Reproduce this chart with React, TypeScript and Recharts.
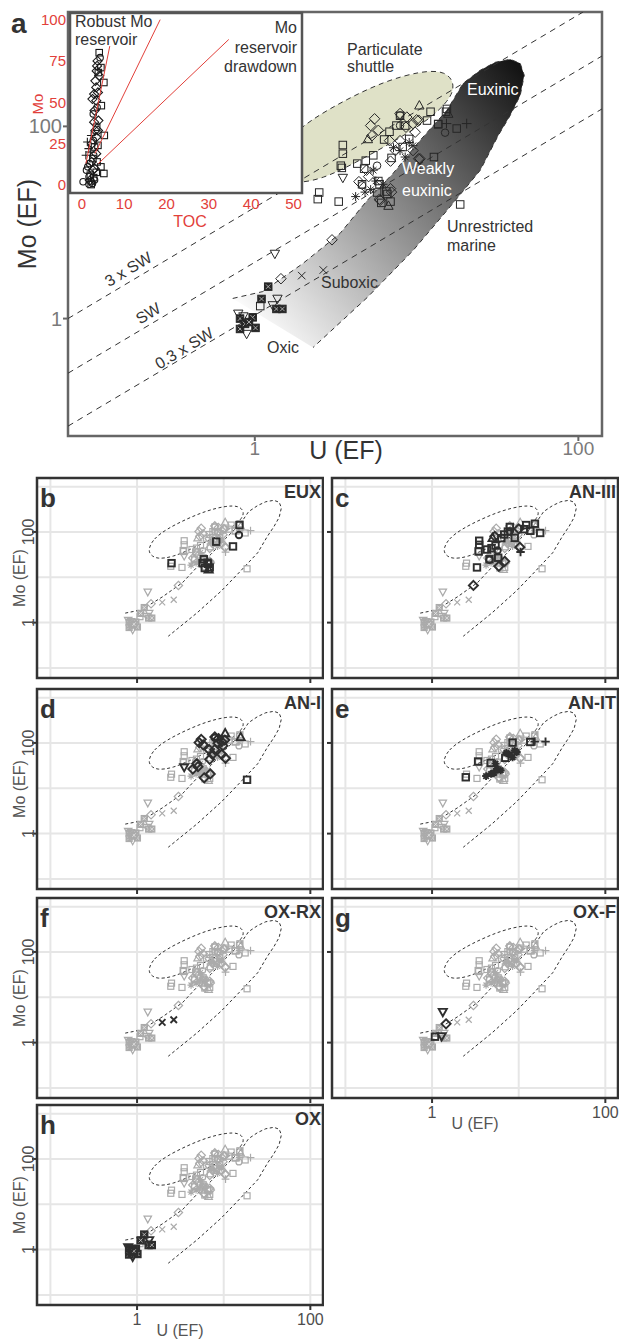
import React from 'react';
import { ScatterChart, Scatter, XAxis, YAxis, CartesianGrid, ReferenceArea, Curve } from 'recharts';

const FONT = '"Liberation Sans", Arial, Helvetica, sans-serif';
const RED = '#e2403a';

// U (EF) / Mo (EF) per facies group
const eux = [
  { u: 2.5, mo: 20.5, s: 'sq' }, { u: 5.7, mo: 20.5, s: 'sq' }, { u: 6.6, mo: 19.8, s: 'sq' },
  { u: 6.05, mo: 16, s: 'sq' }, { u: 6.9, mo: 16.5, s: 'sq' }, { u: 5.9, mo: 25, s: 'sq' },
  { u: 6.5, mo: 21, s: 'sq' }, { u: 8.2, mo: 61, s: 'sq' }, { u: 12.8, mo: 48, s: 'sq' },
  { u: 15.2, mo: 142, s: 'sq' }, { u: 15, mo: 86, s: 'ci' }, { u: 6.7, mo: 15, s: 'tr' },
];
const an3 = [
  { u: 3.5, mo: 64, s: 'sq' }, { u: 3.5, mo: 52, s: 'sq' }, { u: 3.45, mo: 37, s: 'sq' },
  { u: 5, mo: 74, s: 'tr' }, { u: 4.3, mo: 41, s: 'sq' }, { u: 4.85, mo: 44, s: 'sq' },
  { u: 5.4, mo: 50, s: 'sq' }, { u: 6.3, mo: 73, s: 'sq' }, { u: 6.8, mo: 88, s: 'sq' },
  { u: 7.5, mo: 102, s: 'sq' }, { u: 7.9, mo: 129, s: 'sq' }, { u: 5.3, mo: 80, s: 'dm' },
  { u: 9, mo: 74, s: 'sq' }, { u: 10, mo: 117, s: 'dm' }, { u: 11.6, mo: 115, s: 'sq' },
  { u: 12.2, mo: 142, s: 'sq' }, { u: 13.6, mo: 106, s: 'sq' }, { u: 15.4, mo: 152, s: 'sq' },
  { u: 17.7, mo: 95, s: 'sq' }, { u: 10.3, mo: 46, s: 'dm' }, { u: 10.5, mo: 36, s: 'pl' },
  { u: 4.6, mo: 25, s: 'sq' }, { u: 5.8, mo: 27, s: 'sq' }, { u: 6.9, mo: 22.5, s: 'dm' },
  { u: 5.9, mo: 17.5, s: 'dm' }, { u: 3.3, mo: 16.5, s: 'sq' }, { u: 3.0, mo: 6.6, s: 'dm' },
  { u: 7.9, mo: 102, s: 'ci' }, { u: 5.7, mo: 39, s: 'ci' }, { u: 4.6, mo: 24.4, s: 'ci' },
];
const an1 = [
  { u: 5.5, mo: 120, s: 'dm' }, { u: 5.2, mo: 102, s: 'dm' }, { u: 5.8, mo: 91, s: 'dm' },
  { u: 8.7, mo: 125, s: 'dm' }, { u: 9.5, mo: 107, s: 'dm' }, { u: 10.3, mo: 116, s: 'dm' },
  { u: 9.8, mo: 87, s: 'dm' }, { u: 6.8, mo: 71, s: 'dm' }, { u: 7.9, mo: 71, s: 'dm' },
  { u: 7.4, mo: 56, s: 'dm' }, { u: 10.5, mo: 46, s: 'dm' }, { u: 9.5, mo: 56, s: 'dm' },
  { u: 7, mo: 20.7, s: 'dm' }, { u: 5.95, mo: 17, s: 'dm' }, { u: 4.9, mo: 35, s: 'dm' },
  { u: 6.9, mo: 43.5, s: 'dm' }, { u: 4.4, mo: 26.6, s: 'dm' }, { u: 5.05, mo: 30, s: 'dm' },
  { u: 7.9, mo: 136, s: 'dm' }, { u: 8.6, mo: 98, s: 'dm' }, { u: 10.4, mo: 166, s: 'tr' },
  { u: 15.7, mo: 136, s: 'tr' }, { u: 18.6, mo: 15.4, s: 'sq' }, { u: 7.9, mo: 130, s: 'ci' },
  { u: 3.5, mo: 29, s: 'tv' },
];
const anIT = [
  { u: 8.5, mo: 102, s: 'sq' }, { u: 13.6, mo: 105, s: 'sq' }, { u: 20.4, mo: 107, s: 'pl' },
  { u: 15.3, mo: 107, s: 'pl' }, { u: 3.4, mo: 39, s: 'sq' }, { u: 4.74, mo: 36.3, s: 'sq' },
  { u: 2.45, mo: 17.5, s: 'sq' }, { u: 7, mo: 47, s: 'sq' }, { u: 4.2, mo: 18.6, s: 'as' },
  { u: 4.8, mo: 20.7, s: 'as' }, { u: 6.2, mo: 25, s: 'as' }, { u: 8.5, mo: 48, s: 'as' },
  { u: 9.5, mo: 63, s: 'as' }, { u: 7.9, mo: 56, s: 'as' }, { u: 5.4, mo: 35, s: 'as' },
  { u: 5.2, mo: 22, s: 'as' }, { u: 5.6, mo: 27, s: 'as' }, { u: 7.2, mo: 60, s: 'as' },
  { u: 9, mo: 68, s: 'as' },
];
const oxRx = [
  { u: 1.95, mo: 2.8, s: 'x' }, { u: 2.65, mo: 3.2, s: 'x' },
];
const oxF = [
  { u: 1.33, mo: 4.7, s: 'tv' }, { u: 1.45, mo: 2.6, s: 'dm' }, { u: 1.08, mo: 1.35, s: 'sq' },
  { u: 1.29, mo: 1.37, s: 'tv' },
];
const ox = [
  { u: 0.81, mo: 1.0, s: 'bx' }, { u: 0.81, mo: 0.78, s: 'bx' }, { u: 0.97, mo: 1.03, s: 'bx' },
  { u: 1.01, mo: 0.8, s: 'bx' }, { u: 0.87, mo: 0.88, s: 'bx' }, { u: 1.21, mo: 2.15, s: 'bx' },
  { u: 1.1, mo: 1.6, s: 'bx' }, { u: 1.36, mo: 1.26, s: 'bx' }, { u: 1.48, mo: 1.26, s: 'bx' },
  { u: 0.92, mo: 0.92, s: 'bx' }, { u: 0.79, mo: 1.12, s: 'tv' }, { u: 0.89, mo: 0.69, s: 'tv' },
  { u: 1.38, mo: 1.6, s: 'tv' }, { u: 0.85, mo: 1.05, s: 'tv' },
];

const allPts = [...eux, ...an3, ...an1, ...anIT, ...oxRx, ...oxF, ...ox];

const groups = [
  { name: 'EUX', letter: 'b', pts: eux },
  { name: 'AN-III', letter: 'c', pts: an3 },
  { name: 'AN-I', letter: 'd', pts: an1 },
  { name: 'AN-IT', letter: 'e', pts: anIT },
  { name: 'OX-RX', letter: 'f', pts: oxRx },
  { name: 'OX-F', letter: 'g', pts: oxF },
  { name: 'OX', letter: 'h', pts: ox },
];

// TOC (wt%) vs Mo (ppm) for the inset
const tocMo = [
  { toc: 4.1, mo: 80, s: 'sq' }, { toc: 4.3, mo: 77, s: 'ci' }, { toc: 3.6, mo: 72, s: 'dm' },
  { toc: 4.5, mo: 71, s: 'sq' }, { toc: 3.5, mo: 69, s: 'dm' }, { toc: 4.1, mo: 66, s: 'dm' },
  { toc: 5.2, mo: 62, s: 'sq' }, { toc: 3.2, mo: 63, s: 'dm' }, { toc: 3.4, mo: 59, s: 'dm' },
  { toc: 3.8, mo: 56, s: 'dm' }, { toc: 2.5, mo: 52, s: 'dm' }, { toc: 3.4, mo: 51, s: 'dm' },
  { toc: 4.6, mo: 48, s: 'sq' }, { toc: 3.0, mo: 45, s: 'dm' }, { toc: 2.7, mo: 43, s: 'ci' },
  { toc: 3.9, mo: 39, s: 'dm' }, { toc: 3.5, mo: 35, s: 'sq' }, { toc: 3.2, mo: 33, s: 'dm' },
  { toc: 5.3, mo: 30, s: 'sq' }, { toc: 3.4, mo: 29, s: 'dm' }, { toc: 1.3, mo: 26, s: 'pl' },
  { toc: 2.4, mo: 25, s: 'dm' }, { toc: 3.0, mo: 23, s: 'sq' }, { toc: 1.6, mo: 22, s: 'pl' },
  { toc: 3.4, mo: 19, s: 'dm' }, { toc: 0.95, mo: 18, s: 'pl' }, { toc: 2.6, mo: 16, s: 'sq' },
  { toc: 1.8, mo: 13, s: 'ci' }, { toc: 4.5, mo: 11, s: 'sq' }, { toc: 5.2, mo: 7, s: 'sq' },
  { toc: 3.0, mo: 10, s: 'dm' }, { toc: 1.1, mo: 9, s: 'ci' }, { toc: 1.7, mo: 5, s: 'ci' },
  { toc: 3.4, mo: 7.7, s: 'sq' }, { toc: 0.3, mo: 2, s: 'ci' }, { toc: 2.2, mo: 2, s: 'ci' },
  { toc: 2.2, mo: 0.3, s: 'sq' }, { toc: 3.0, mo: 3, s: 'ci' }, { toc: 1.7, mo: 0.5, s: 'ci' },
  { toc: 3.7, mo: 75, s: 'dm' }, { toc: 3.9, mo: 68, s: 'sq' }, { toc: 2.9, mo: 55, s: 'dm' },
  { toc: 3.6, mo: 47, s: 'ci' }, { toc: 2.9, mo: 38, s: 'dm' }, { toc: 3.8, mo: 33, s: 'dm' },
  { toc: 2.2, mo: 30, s: 'pl' }, { toc: 2.7, mo: 27, s: 'ci' }, { toc: 3.8, mo: 24, s: 'sq' },
  { toc: 2.0, mo: 20, s: 'pl' }, { toc: 2.8, mo: 18, s: 'ci' }, { toc: 2.3, mo: 14, s: 'dm' },
  { toc: 3.6, mo: 14, s: 'sq' }, { toc: 1.4, mo: 11, s: 'ci' }, { toc: 2.6, mo: 9, s: 'dm' },
  { toc: 2.0, mo: 6, s: 'sq' }, { toc: 2.8, mo: 4.5, s: 'sq' }, { toc: 2.5, mo: 1, s: 'ci' },
  { toc: 1.9, mo: 2.8, s: 'dm' },
];

// Mo/TOC trend lines of the inset
const robustLine = [{ toc: 0.95, mo: 13 }, { toc: 6.6, mo: 84 }];
const midLine = [{ toc: 3.1, mo: 19 }, { toc: 18.5, mo: 100 }];
const drawdownLine = [{ toc: 3.9, mo: 13 }, { toc: 34.7, mo: 88 }];

// Field outlines (U EF, Mo EF)
const shuttleOutline = [
  { u: 1.35, mo: 42 }, { u: 1.54, mo: 70 }, { u: 2.19, mo: 116 }, { u: 3.72, mo: 193 },
  { u: 6.31, mo: 294 }, { u: 10.7, mo: 378 }, { u: 15.2, mo: 378 }, { u: 17.4, mo: 271 },
  { u: 15.9, mo: 185 }, { u: 11.7, mo: 115 }, { u: 7.5, mo: 72 }, { u: 4.43, mo: 44 },
  { u: 2.61, mo: 28 }, { u: 1.68, mo: 25 }, { u: 1.41, mo: 32 },
];
const bandOutline = [
  { u: 0.73, mo: 1.62 }, { u: 1.12, mo: 1.91 }, { u: 1.98, mo: 3.74 }, { u: 3.36, mo: 7.68 },
  { u: 4.94, mo: 16.9 }, { u: 7.15, mo: 32.4 }, { u: 10.5, mo: 71.5 }, { u: 15.4, mo: 147 },
  { u: 19.4, mo: 281 }, { u: 24.7, mo: 383 }, { u: 30.6, mo: 464 }, { u: 37.9, mo: 499 },
  { u: 43.7, mo: 453 }, { u: 46.3, mo: 340 }, { u: 43.7, mo: 210 }, { u: 37.9, mo: 130 },
  { u: 32, mo: 80.6 }, { u: 24.7, mo: 34.8 }, { u: 15.4, mo: 13.3 }, { u: 9.5, mo: 5.1 },
  { u: 4.94, mo: 1.65 }, { u: 2.29, mo: 0.5 },
];

// Mo/U seawater ratio lines
const sw3 = [{ u: 0.07, mo: 1.0 }, { u: 107, mo: 1550 }];
const sw1 = [{ u: 0.07, mo: 0.27 }, { u: 140, mo: 540 }];
const sw03 = [{ u: 0.07, mo: 0.076 }, { u: 140, mo: 152 }];

const U_DOM = [0.07, 140];
const MO_DOM = [0.06, 1550];
const U_TICKS = [0.1, 1, 10, 100];
const MO_TICKS = [0.1, 1, 10, 100, 1000];

function mark(s: string, cx: number, cy: number, c: string, sz: number, sw: number) {
  const r = sz / 2;
  const st = { fill: 'none', stroke: c, strokeWidth: sw };
  switch (s) {
    case 'sq':
      return <rect x={cx - r} y={cy - r} width={sz} height={sz} {...st} />;
    case 'dm': {
      const d = r * 1.4;
      return <path d={`M${cx} ${cy - d}L${cx + d} ${cy}L${cx} ${cy + d}L${cx - d} ${cy}Z`} {...st} />;
    }
    case 'tr': {
      const d = r * 1.25;
      return <path d={`M${cx} ${cy - d}L${cx + d} ${cy + d * 0.8}L${cx - d} ${cy + d * 0.8}Z`} {...st} />;
    }
    case 'tv': {
      const d = r * 1.25;
      return <path d={`M${cx} ${cy + d}L${cx + d} ${cy - d * 0.8}L${cx - d} ${cy - d * 0.8}Z`} {...st} />;
    }
    case 'ci':
      return <circle cx={cx} cy={cy} r={r} {...st} />;
    case 'pl': {
      const d = r * 1.3;
      return <path d={`M${cx - d} ${cy}H${cx + d}M${cx} ${cy - d}V${cy + d}`} {...st} />;
    }
    case 'x': {
      const d = r;
      return <path d={`M${cx - d} ${cy - d}L${cx + d} ${cy + d}M${cx - d} ${cy + d}L${cx + d} ${cy - d}`} {...st} />;
    }
    case 'as': {
      const d = r * 1.2;
      const e = d * 0.7;
      return (
        <path
          d={`M${cx - d} ${cy}H${cx + d}M${cx} ${cy - d}V${cy + d}M${cx - e} ${cy - e}L${cx + e} ${cy + e}M${cx - e} ${cy + e}L${cx + e} ${cy - e}`}
          {...st}
        />
      );
    }
    case 'bx': {
      const k = r * 0.6;
      return (
        <g>
          <rect x={cx - r} y={cy - r} width={sz} height={sz} fill={c} stroke={c} strokeWidth={sw} />
          <path d={`M${cx - k} ${cy - k}L${cx + k} ${cy + k}M${cx - k} ${cy + k}L${cx + k} ${cy - k}`} stroke="#fff" strokeWidth={0.8} opacity={0.75} />
        </g>
      );
    }
    default:
      return <g />;
  }
}

const dot = (c: string, sz: number, sw: number) => (p: any) => mark(p.payload.s, p.cx, p.cy, c, sz, sw);
const noDot = () => <g />;

const dashedClosed = (lp: any) => (
  <Curve points={lp.points} type="basisClosed" fill="none" stroke="#333" strokeWidth={1} strokeDasharray="3 2.5" />
);
const dashedOpen = (lp: any) => (
  <Curve points={lp.points} type="linear" fill="none" stroke="#333" strokeWidth={1} strokeDasharray="3 2.5" />
);
const swDash = (lp: any) => (
  <Curve points={lp.points} type="linear" fill="none" stroke="#333" strokeWidth={1} strokeDasharray="6 5" />
);
const shuttleFill = (lp: any) => (
  <Curve points={lp.points} type="basisClosed" fill="#dfe1c7" stroke="#333" strokeWidth={1} strokeDasharray="5 4" />
);
const bandFill = (lp: any) => {
  const pts = lp.points;
  const a = pts[0];
  const b = pts[11];
  return (
    <g>
      <defs>
        <linearGradient id="bandGrad" gradientUnits="userSpaceOnUse" x1={a.x} y1={a.y} x2={b.x} y2={b.y}>
          <stop offset="0" stopColor="#fcfcfc" />
          <stop offset="0.28" stopColor="#bdbdbd" />
          <stop offset="0.57" stopColor="#7a7a7a" />
          <stop offset="0.88" stopColor="#303030" />
          <stop offset="1" stopColor="#141414" />
        </linearGradient>
      </defs>
      <Curve points={pts} type="linearClosed" fill="url(#bandGrad)" stroke="none" />
      <Curve points={pts} type="linear" fill="none" stroke="#333" strokeWidth={1} strokeDasharray="5 4" />
    </g>
  );
};

const mainXTick = (p: any) => {
  const v = p.payload.value;
  if (v !== 1 && v !== 100) return <g />;
  return (
    <g>
      <line x1={p.x} x2={p.x} y1={p.y} y2={p.y + 5} stroke="#666" strokeWidth={2} />
      <text x={p.x} y={p.y + 19} textAnchor="middle" fontSize={19} fill="#7a7a7a" fontFamily={FONT}>{v}</text>
    </g>
  );
};
const mainYTick = (p: any) => {
  const v = p.payload.value;
  if (v !== 1 && v !== 100) return <g />;
  return (
    <g>
      <line x1={p.x - 5} x2={p.x} y1={p.y} y2={p.y} stroke="#666" strokeWidth={2} />
      <text x={p.x - 6} y={p.y + 7} textAnchor="end" fontSize={20} fill="#7a7a7a" fontFamily={FONT}>{v}</text>
    </g>
  );
};
const smallXTick = (show: boolean) => (p: any) => {
  const v = p.payload.value;
  if (v !== 1 && v !== 100) return <g />;
  return (
    <g>
      <line x1={p.x} x2={p.x} y1={p.y} y2={p.y + 5} stroke="#333" strokeWidth={2} />
      {show && (
        <text x={p.x} y={p.y + 20} textAnchor="middle" fontSize={16} fill="#4d4d4d" fontFamily={FONT}>{v}</text>
      )}
    </g>
  );
};
const smallYTick = (show: boolean) => (p: any) => {
  const v = p.payload.value;
  if (v !== 1 && v !== 100) return <g />;
  const tx = p.x - 3;
  return (
    <g>
      <line x1={p.x - 5} x2={p.x} y1={p.y} y2={p.y} stroke="#333" strokeWidth={2} />
      {show && (
        <text x={tx} y={p.y} transform={`rotate(-90 ${tx} ${p.y})`} textAnchor="middle" fontSize={16} fill="#4d4d4d" fontFamily={FONT}>{v}</text>
      )}
    </g>
  );
};

function MainPanel() {
  return (
    <div style={{ position: 'absolute', left: 0, top: 0 }}>
      <ScatterChart width={619} height={470} margin={{ top: 12, right: 17, left: 0, bottom: 0 }}>
        <XAxis type="number" dataKey="u" scale="log" domain={U_DOM} allowDataOverflow ticks={U_TICKS} interval={0}
          tickSize={0} tickMargin={0} axisLine={false} tickLine={false} height={34} tick={mainXTick} />
        <YAxis type="number" dataKey="mo" scale="log" domain={MO_DOM} allowDataOverflow ticks={MO_TICKS} interval={0}
          tickSize={0} tickMargin={0} axisLine={false} tickLine={false} width={68} tick={mainYTick} />
        <Scatter data={shuttleOutline} isAnimationActive={false} shape={noDot} line={shuttleFill} />
        <Scatter data={bandOutline} isAnimationActive={false} shape={noDot} line={bandFill} />
        <Scatter data={sw3} isAnimationActive={false} shape={noDot} line={swDash} />
        <Scatter data={sw1} isAnimationActive={false} shape={noDot} line={swDash} />
        <Scatter data={sw03} isAnimationActive={false} shape={noDot} line={swDash} />
        <Scatter data={allPts} isAnimationActive={false} shape={dot('#262626', 7.5, 1)} />
        <ReferenceArea x1={U_DOM[0]} x2={U_DOM[1]} y1={MO_DOM[0]} y2={MO_DOM[1]} ifOverflow="visible"
          fill="none" stroke="#666" strokeWidth={2.5} />
      </ScatterChart>
    </div>
  );
}

const redLine = (lp: any) => (
  <Curve points={lp.points} type="linear" fill="none" stroke={RED} strokeWidth={1} />
);

function Inset() {
  return (
    <div style={{ position: 'absolute', left: 0, top: 0 }}>
      <ScatterChart width={310} height={230} margin={{ top: 13, right: 8, left: 0, bottom: 0 }}>
        <CartesianGrid horizontal={false} vertical={false} fill="#fff" />
        <XAxis type="number" dataKey="toc" domain={[-2.8, 52]} allowDataOverflow ticks={[0, 10, 20, 30, 40, 50]} interval={0}
          tickSize={0} tickMargin={5} axisLine={false} tickLine={false} height={37}
          tick={{ fill: RED, fontSize: 15, fontFamily: FONT }} />
        <YAxis type="number" dataKey="mo" domain={[-4.8, 104]} allowDataOverflow ticks={[0, 25, 50, 75, 100]} interval={0}
          tickSize={0} tickMargin={4} axisLine={false} tickLine={false} width={70}
          tick={{ fill: RED, fontSize: 15, fontFamily: FONT }} />
        <Scatter data={tocMo} isAnimationActive={false} shape={dot('#1a1a1a', 6.5, 1.1)} />
        <Scatter data={robustLine} isAnimationActive={false} shape={noDot} line={redLine} />
        <Scatter data={midLine} isAnimationActive={false} shape={noDot} line={redLine} />
        <Scatter data={drawdownLine} isAnimationActive={false} shape={noDot} line={redLine} />
        <ReferenceArea x1={-2.8} x2={52} y1={-4.8} y2={104} ifOverflow="visible" fill="none" stroke="#555" strokeWidth={2.5} />
      </ScatterChart>
    </div>
  );
}

function SmallPanel({ grp, fx, fy, showY, showX }: any) {
  const yw = showY ? 37 : 9;
  const xh = showX ? 34 : 8;
  const others = allPts.filter((p) => !grp.pts.includes(p));
  return (
    <div style={{ position: 'absolute', left: fx - yw, top: fy - 2 }}>
      <ScatterChart width={yw + 287} height={202 + xh} margin={{ top: 2, right: 1, left: 0, bottom: 0 }}>
        <CartesianGrid stroke="#e6e6e6" strokeWidth={2} />
        <XAxis type="number" dataKey="u" scale="log" domain={U_DOM} allowDataOverflow ticks={U_TICKS} interval={0}
          tickSize={0} tickMargin={0} axisLine={false} tickLine={false} height={xh} tick={smallXTick(showX)} />
        <YAxis type="number" dataKey="mo" scale="log" domain={MO_DOM} allowDataOverflow ticks={MO_TICKS} interval={0}
          tickSize={0} tickMargin={0} axisLine={false} tickLine={false} width={yw} tick={smallYTick(showY)} />
        <Scatter data={shuttleOutline} isAnimationActive={false} shape={noDot} line={dashedClosed} />
        <Scatter data={bandOutline} isAnimationActive={false} shape={noDot} line={dashedOpen} />
        <Scatter data={others} isAnimationActive={false} shape={dot('#ababab', 6, 1.2)} />
        <Scatter data={grp.pts} isAnimationActive={false} shape={dot('#2e2e2e', 6.5, 1.9)} />
        <ReferenceArea x1={U_DOM[0]} x2={U_DOM[1]} y1={MO_DOM[0]} y2={MO_DOM[1]} ifOverflow="visible"
          fill="none" stroke="#333" strokeWidth={2.5} />
      </ScatterChart>
    </div>
  );
}

const panelPos = [
  { fx: 37, fy: 478, showY: true, showX: false },
  { fx: 332, fy: 478, showY: false, showX: false },
  { fx: 37, fy: 689, showY: true, showX: false },
  { fx: 332, fy: 689, showY: false, showX: false },
  { fx: 37, fy: 898, showY: true, showX: false },
  { fx: 332, fy: 898, showY: false, showX: true },
  { fx: 37, fy: 1105, showY: true, showX: true },
];

function T({ x, y, children, size = 16, color = '#333', anchor = 'start', bold = false, rot = 0 }: any) {
  return (
    <text x={x} y={y} fontSize={size} fill={color} textAnchor={anchor} fontWeight={bold ? 'bold' : 'normal'}
      fontFamily={FONT} transform={rot ? `rotate(${rot} ${x} ${y})` : undefined}>
      {children}
    </text>
  );
}

function Overlay() {
  return (
    <svg width={619} height={1339} style={{ position: 'absolute', left: 0, top: 0, pointerEvents: 'none' }}>
      <T x={11} y={33} size={28} bold>a</T>
      <T x={36} y={224} size={25} anchor="middle" rot={-90}>Mo (EF)</T>
      <T x={346} y={459} size={25} anchor="middle">U (EF)</T>
      <T x={75} y={27}>Robust Mo</T>
      <T x={75} y={45}>reservoir</T>
      <T x={297} y={33} anchor="end">Mo</T>
      <T x={297} y={53} anchor="end">reservoir</T>
      <T x={297} y={72} anchor="end">drawdown</T>
      <T x={190} y={227} anchor="middle" color={RED}>TOC</T>
      <T x={43} y={104} size={15} anchor="middle" color={RED} rot={-90}>Mo</T>
      <T x={347} y={55}>Particulate</T>
      <T x={347} y={72}>shuttle</T>
      <T x={467} y={95} color="#fff">Euxinic</T>
      <T x={402} y={174} color="#fff">Weakly</T>
      <T x={402} y={196} color="#fff">euxinic</T>
      <T x={447} y={232}>Unrestricted</T>
      <T x={447} y={251}>marine</T>
      <T x={321} y={288}>Suboxic</T>
      <T x={267} y={353}>Oxic</T>
      <T x={131} y={274} anchor="middle" rot={-31}>3 x SW</T>
      <T x={151} y={318} anchor="middle" rot={-31}>SW</T>
      <T x={187} y={353} anchor="middle" rot={-31}>0.3 x SW</T>
      {groups.map((g, i) => {
        const p = panelPos[i];
        return (
          <g key={g.name}>
            <T x={p.fx + 3} y={p.fy + 29} size={26} bold>{g.letter}</T>
            <T x={p.fx + 284} y={p.fy + 20} size={18} bold anchor="end">{g.name}</T>
            {p.showY && <T x={25} y={p.fy + 100} size={16} color="#555" anchor="middle" rot={-90}>Mo (EF)</T>}
            {p.showX && <T x={p.fx + 143} y={p.fy + 231} size={16} color="#555" anchor="middle">U (EF)</T>}
          </g>
        );
      })}
    </svg>
  );
}

export default function App() {
  return (
    <div style={{ position: 'absolute', left: 0, top: 0, width: 619, height: 1339, overflow: 'hidden', background: '#fff' }}>
      <MainPanel />
      <Inset />
      {groups.map((g, i) => (
        <SmallPanel key={g.name} grp={g} {...panelPos[i]} />
      ))}
      <Overlay />
    </div>
  );
}
